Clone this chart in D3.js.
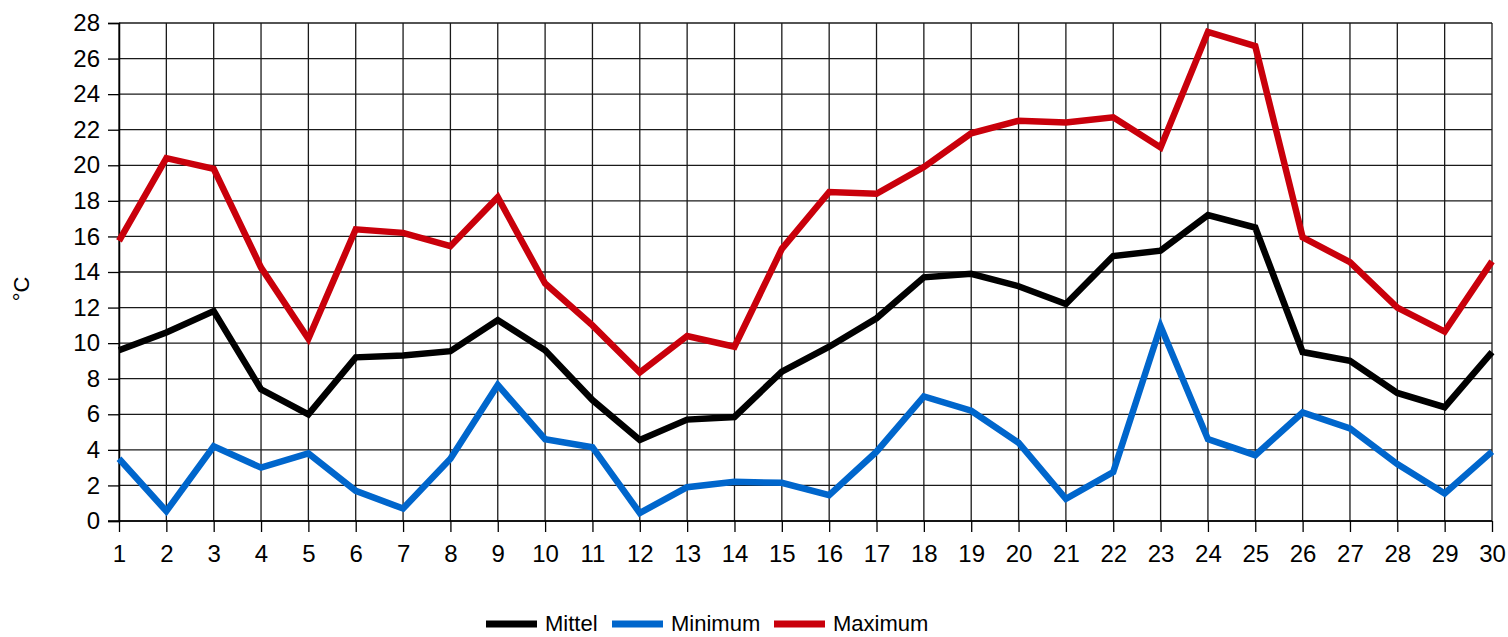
<!DOCTYPE html>
<html>
<head>
<meta charset="utf-8">
<script src="https://cdn.jsdelivr.net/npm/d3@7"></script>
<style>
  body { margin: 0; background: #fff; }
  text { font-family: "Liberation Sans", Arial, sans-serif; }
</style>
</head>
<body>
<div id="chart"></div>
<script>
// daily temperatures, one value per day
var days = d3.range(1, 31);
var mittel = [9.6, 10.6, 11.8, 7.4, 6.0, 9.2, 9.3, 9.55, 11.3, 9.6,
              6.8, 4.55, 5.7, 5.85, 8.4, 9.8, 11.4, 13.7, 13.9, 13.2,
              12.2, 14.9, 15.2, 17.2, 16.5, 9.5, 9.0, 7.2, 6.4, 9.5];
var minimum = [3.5, 0.55, 4.2, 3.0, 3.8, 1.7, 0.7, 3.5, 7.65, 4.6,
               4.15, 0.45, 1.9, 2.2, 2.15, 1.45, 3.9, 7.0, 6.2, 4.4,
               1.25, 2.75, 10.95, 4.6, 3.7, 6.1, 5.2, 3.2, 1.55, 3.9];
var maximum = [15.75, 20.4, 19.8, 14.25, 10.25, 16.4, 16.2, 15.45, 18.2, 13.35,
               11.0, 8.35, 10.4, 9.8, 15.3, 18.5, 18.4, 19.9, 21.8, 22.5,
               22.4, 22.7, 21.0, 27.5, 26.7, 15.95, 14.55, 12.0, 10.65, 14.6];
var yTicks = d3.range(0, 29, 2);

var series = [
  {name: "Mittel", values: mittel, color: "#000000"},
  {name: "Minimum", values: minimum, color: "#0066cc"},
  {name: "Maximum", values: maximum, color: "#c9000b"}
];

var svgWidth = 1508, svgHeight = 637;
var margin = {top: 23, right: 16, bottom: 116, left: 119};
var width = svgWidth - margin.left - margin.right;
var height = svgHeight - margin.top - margin.bottom;

var svg = d3.select("#chart").append("svg")
    .attr("width", svgWidth)
    .attr("height", svgHeight);

var chartGroup = svg.append("g")
    .attr("transform", `translate(${margin.left}, ${margin.top})`);

var x = d3.scaleLinear().domain([1, 30]).range([0, width]);
var y = d3.scaleLinear().domain([0, 28]).range([height, 0]);

// grid
chartGroup.append("g")
    .selectAll("line.h")
    .data(yTicks)
    .enter().append("line")
    .attr("x1", 0).attr("x2", width)
    .attr("y1", d => y(d)).attr("y2", d => y(d))
    .attr("stroke", "#1a1a1a").attr("stroke-width", 1.3);
chartGroup.append("g")
    .selectAll("line.v")
    .data(days)
    .enter().append("line")
    .attr("x1", d => x(d)).attr("x2", d => x(d))
    .attr("y1", 0).attr("y2", height)
    .attr("stroke", "#1a1a1a").attr("stroke-width", 1.3);

// axes
var leftAxis = d3.axisLeft(y).tickValues(yTicks).tickSize(11).tickPadding(8);
var bottomAxis = d3.axisBottom(x).tickValues(days).tickSize(11).tickPadding(13)
    .tickFormat(d3.format("d"));

var gy = chartGroup.append("g").call(leftAxis);
var gx = chartGroup.append("g")
    .attr("transform", `translate(0, ${height})`)
    .call(bottomAxis);
[gx, gy].forEach(function(g) {
  g.select(".domain").attr("stroke", "#000").attr("stroke-width", 1.5);
  g.selectAll(".tick line").attr("stroke", "#000").attr("stroke-width", 1.3);
  g.selectAll(".tick text")
    .attr("fill", "#000")
    .style("font-size", "24px")
    .style("font-family", "Liberation Sans, Arial, sans-serif");
});
gx.select(".domain").remove();
chartGroup.append("line")
    .attr("x1", -11).attr("x2", width)
    .attr("y1", height).attr("y2", height)
    .attr("stroke", "#000").attr("stroke-width", 1.5);

// y axis title
svg.append("text")
    .attr("transform", "translate(29, 289) rotate(-90)")
    .attr("text-anchor", "middle")
    .style("font-size", "22px")
    .text("°C");

// lines
var line = d3.line()
    .x((d, i) => x(days[i]))
    .y(d => y(d));

chartGroup.selectAll("path.series")
    .data(series)
    .enter().append("path")
    .attr("class", "series")
    .attr("d", d => line(d.values))
    .attr("fill", "none")
    .attr("stroke", d => d.color)
    .attr("stroke-width", 6.5)
    .attr("stroke-linejoin", "miter");

// legend
var legendX = [486, 612, 774];
var legend = svg.append("g")
    .selectAll("g")
    .data(series)
    .enter().append("g")
    .attr("transform", (d, i) => `translate(${legendX[i]}, 624)`);
legend.append("line")
    .attr("x1", 0).attr("x2", 51)
    .attr("y1", 0).attr("y2", 0)
    .attr("stroke", d => d.color)
    .attr("stroke-width", 7);
legend.append("text")
    .attr("x", 59)
    .attr("y", 7)
    .style("font-size", "22px")
    .text(d => d.name);
</script>
</body>
</html>
